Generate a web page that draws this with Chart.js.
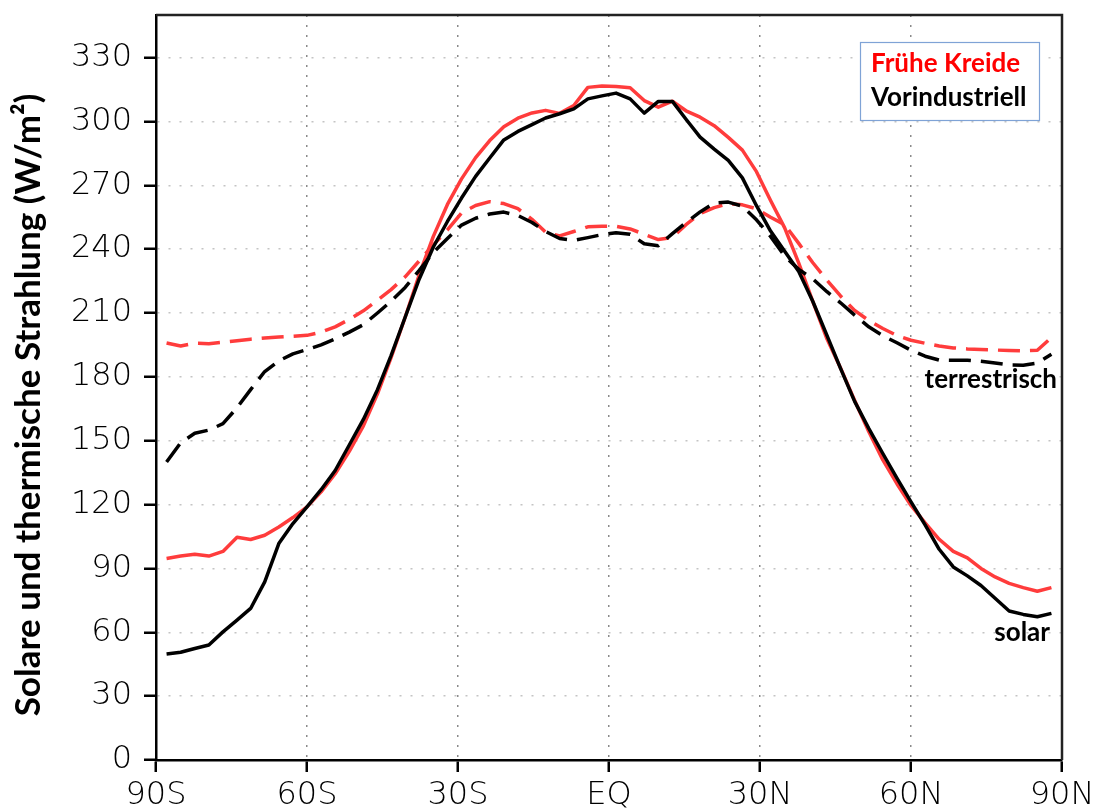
<!DOCTYPE html>
<html>
<head>
<meta charset="utf-8">
<script src="https://cdn.jsdelivr.net/npm/chart.js@4"></script>
<style>
  body { margin: 0; background: #fff; }
</style>
</head>
<body>
<canvas id="radiation" width="1099" height="809"></canvas>
<script>
// latitudes of the model grid (deg, south negative)
const lats = [-87.9, -85.1, -82.3, -79.5, -76.7, -73.9, -71.2, -68.4, -65.6, -62.8, -60.0, -57.2, -54.4, -51.6, -48.8, -46.0,
  -43.3, -40.5, -37.7, -34.9, -32.1, -29.3, -26.5, -23.7, -20.9, -18.1, -15.3, -12.6, -9.8, -7.0, -4.2, -1.4,
  1.4, 4.2, 7.0, 9.8, 12.6, 15.3, 18.1, 20.9, 23.7, 26.5, 29.3, 32.1, 34.9, 37.7, 40.5, 43.3,
  46.0, 48.8, 51.6, 54.4, 57.2, 60.0, 62.8, 65.6, 68.4, 71.2, 73.9, 76.7, 79.5, 82.3, 85.1, 87.9]

// solar, Fruehe Kreide (red solid)
const solarKreide = [94.7, 95.8, 96.7, 95.8, 98, 104.6, 103.6, 105.6, 109.5, 113.9, 118.9, 126, 134.5, 145, 157, 172,
  189, 208, 228, 246, 261, 273, 283, 291, 297.5, 301.5, 304, 305.2, 303.8, 307.5, 316, 316.6,
  316.4, 315.8, 309.8, 306.7, 309.5, 305, 302, 298, 292.5, 286.5, 276.4, 262.9, 250, 233.4, 215.3, 197.9,
  184.2, 168.9, 154.3, 141, 129.8, 119.6, 111.4, 103.7, 98, 95, 90, 86, 83, 81, 79.3, 81]

// solar, Vorindustriell (black solid)
const solarVorind = [49.8, 50.6, 52.4, 54, 60.2, 65.7, 71.2, 83.7, 101.7, 111.1, 118.9, 127, 136, 148, 160, 174,
  190, 208, 226, 241, 253, 264, 274.2, 282.8, 291.3, 295.3, 298.5, 301.6, 303.6, 305.9, 310.6, 312,
  313.3, 310.6, 303.9, 309.4, 309.4, 301, 292.6, 287, 281.7, 273.5, 260.4, 248.5, 239, 229.5, 215.4, 199.5,
  184, 168.5, 155.8, 144, 132.4, 121.3, 110.5, 99, 90.7, 86.5, 82, 76, 70, 68.4, 67.3, 68.9]

// terrestrial, Fruehe Kreide (red dashed)
const terrKreide = [195.9, 194.5, 195.8, 195.6, 196.3, 197, 197.7, 198.3, 198.7, 199.1, 199.5, 201, 203.5, 207, 211, 216,
  221, 227, 234.5, 242, 249, 257, 260.5, 262.3, 261.4, 259, 254, 248, 246.2, 248.3, 250.5, 250.7,
  250.7, 249.5, 247, 244.5, 245.5, 251.5, 256.7, 259.5, 261.3, 260.8, 259, 255, 251.5, 242.7, 233.6, 225.4,
  218, 211.2, 206.5, 202.7, 199.4, 197.2, 195.8, 194.5, 193.6, 193.1, 192.8, 192.6, 192.4, 192.2, 192.5, 198.5]

// terrestrial, Vorindustriell (black dashed)
const terrVorind = [140, 149, 153.5, 155, 158, 165.5, 174, 182.5, 187.5, 190.8, 192.8, 195, 197.8, 201, 204.5, 210,
  215.5, 222, 230, 238.5, 245, 251.3, 254.5, 256.5, 257.4, 255.8, 252.5, 248.3, 245, 244.1, 245.4, 246.8,
  247.7, 247, 242.5, 241.6, 247.3, 252.5, 257.5, 261.6, 262.1, 260.2, 253.8, 246, 236.7, 230.5, 226, 220,
  214.8, 209, 203.5, 199.3, 196, 192.5, 189.7, 187.9, 187.8, 187.8, 187.3, 186.5, 185.6, 185.5, 186.5, 190.6]

const xTickValues = [-90, -60, -30, 0, 30, 60, 90]
const xTickLabels = ['90S', '60S', '30S', 'EQ', '30N', '60N', '90N']

const RED = '#ff3c3c'
const BLACK = '#000000'

function series(values) {
  return lats.map((lat, i) => ({ x: lat, y: values[i] }))
}

// frame, axis title, legend box and the two curve labels
const overlay = {
  id: 'overlay',
  afterDraw(chart) {
    const { ctx, chartArea: a } = chart
    ctx.save()
    ctx.strokeStyle = '#222'
    ctx.lineWidth = 2.5
    ctx.beginPath()
    ctx.moveTo(a.left, a.top)
    ctx.lineTo(a.right, a.top)
    ctx.lineTo(a.right, a.bottom)
    ctx.stroke()

    // y axis title
    ctx.save()
    ctx.translate(29, 405)
    ctx.rotate(-Math.PI / 2)
    ctx.fillStyle = '#000'
    ctx.font = 'bold 35px Lato'
    ctx.textAlign = 'center'
    ctx.textBaseline = 'middle'
    ctx.fillText('Solare und thermische Strahlung (W/m²)', 0, 0)
    ctx.restore()

    // legend box
    ctx.fillStyle = '#fff'
    ctx.fillRect(860, 42, 179, 78)
    ctx.strokeStyle = '#7fa3d6'
    ctx.lineWidth = 1.2
    ctx.strokeRect(860.5, 42.5, 179, 78)
    ctx.font = 'bold 26px Lato'
    ctx.textBaseline = 'middle'
    ctx.textAlign = 'left'
    ctx.fillStyle = '#ff0000'
    ctx.fillText('Frühe Kreide', 871, 64)
    ctx.fillStyle = '#000'
    ctx.fillText('Vorindustriell', 871, 98)

    // curve labels
    ctx.textAlign = 'right'
    ctx.fillText('terrestrisch', 1057, 380)
    ctx.fillText('solar', 1050, 633)
    ctx.restore()
  },
}

const ctx = document.getElementById('radiation').getContext('2d')

const radiationChart = new Chart(ctx, {
  type: 'line',
  data: {
    datasets: [
      { data: series(solarVorind), borderColor: BLACK, borderWidth: 3.5 },
      { data: series(terrVorind), borderColor: BLACK, borderWidth: 3.5, borderDash: [22, 10] },
      { data: series(solarKreide), borderColor: RED, borderWidth: 3.5 },
      { data: series(terrKreide), borderColor: RED, borderWidth: 3.5, borderDash: [22, 10] },
    ],
  },
  options: {
    responsive: false,
    animation: false,
    parsing: false,
    elements: {
      point: { radius: 0 },
      line: { tension: 0, fill: false, borderCapStyle: 'butt', borderJoinStyle: 'round' },
    },
    layout: {
      padding: { top: 15, right: 37, left: 0, bottom: 0 },
    },
    scales: {
      x: {
        type: 'linear',
        min: -90,
        max: 90,
        afterFit: (scale) => {
          scale.height = 49
          // labels may hang over the edges, keep the plot box fixed
          scale.paddingLeft = 0
          scale.paddingRight = 0
        },
        afterBuildTicks: (scale) => {
          scale.ticks = xTickValues.map((v) => ({ value: v }))
        },
        ticks: {
          color: '#000',
          padding: 11,
          maxRotation: 0,
          font: { family: 'DejaVu Sans', size: 32, weight: '200', lineHeight: 0.8 },
          callback: (value) => xTickLabels[xTickValues.indexOf(value)],
        },
        grid: {
          color: '#8a8a8a',
          lineWidth: 1.5,
          tickLength: 12,
          tickColor: '#000',
          tickWidth: 2.5,
          tickBorderDash: [],
        },
        border: { color: '#000', width: 2.5, dash: [2, 8] },
      },
      y: {
        min: 0,
        max: 350,
        afterFit: (scale) => {
          scale.width = 156
          scale.paddingTop = 0
          scale.paddingBottom = 0
        },
        afterBuildTicks: (scale) => {
          scale.ticks = scale.ticks.filter((t) => t.value % 30 === 0)
        },
        ticks: {
          stepSize: 30,
          color: '#000',
          padding: 12,
          font: { family: 'DejaVu Sans', size: 32, weight: '200', lineHeight: 0.8 },
        },
        grid: {
          color: '#c4c4c4',
          lineWidth: 1.5,
          tickLength: 12,
          tickColor: '#000',
          tickWidth: 2.5,
          tickBorderDash: [],
        },
        border: { color: '#000', width: 2.5, dash: [2, 9] },
      },
    },
    plugins: {
      legend: { display: false },
      tooltip: { enabled: false },
    },
  },
  plugins: [overlay],
})
</script>
</body>
</html>
